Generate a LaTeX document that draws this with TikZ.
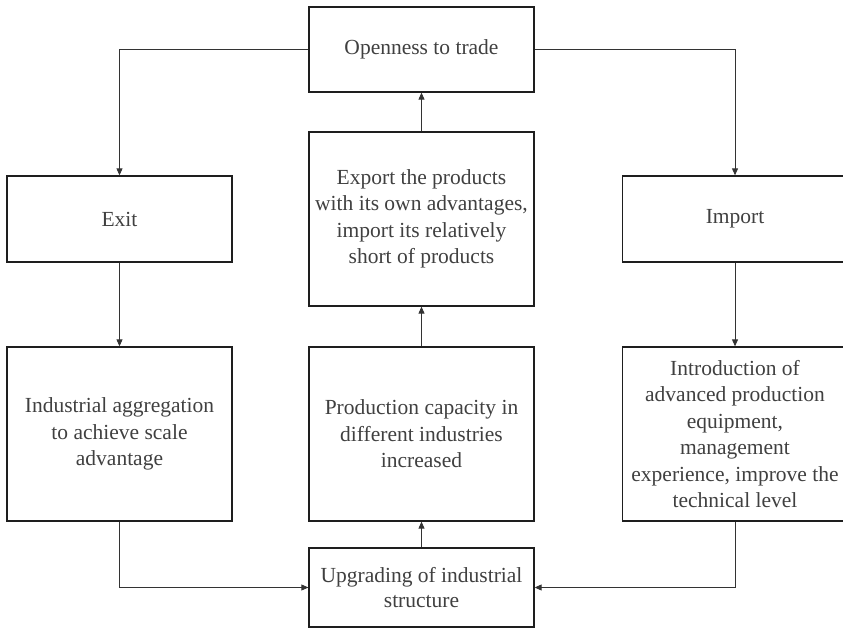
\documentclass[tikz,border=0pt]{standalone}
\usepackage{fontspec}
\setmainfont{Liberation Serif}
\usetikzlibrary{arrows.meta}
\definecolor{txt}{HTML}{404040}
\definecolor{edge}{HTML}{1E1E1E}
\definecolor{conn}{HTML}{333333}
\begin{document}
\begin{tikzpicture}[x=1pt,y=1pt,
  box/.style={draw=edge, line width=1.3pt, fill=white, minimum width=225pt, inner sep=0pt,
    align=center, text=txt, font=\fontsize{21.5}{26.5}\selectfont},
  conn/.style={draw=conn, line width=0.9pt, -{Triangle[length=7pt,width=6pt]}}]
\useasboundingbox (0,0) rectangle (843,629);
\clip (0,0) rectangle (843,629);
\fill[white] (0,0) rectangle (843,629);
\node[box, minimum height=85pt] (open) at (421.5,579.5) {Openness to trade};
\node[box, minimum height=86pt] (exit) at (119.5,410) {Exit};
\node[box, minimum height=174pt] (export) at (421.5,410) {Export the products\\with its own advantages,\\import its relatively\\short of products};
\node[box, minimum height=86pt] (import) at (735,410) {Import};
\node[box, minimum height=174pt] (indus) at (119.5,195) {Industrial aggregation\\to achieve scale\\advantage};
\node[box, minimum height=174pt] (prod) at (421.5,195) {Production capacity in\\different industries\\increased};
\node[box, minimum height=174pt] (intro) at (735,195) {Introduction of\\advanced production\\equipment,\\management\\experience, improve the\\technical level};
\node[box, minimum height=79pt, font=\fontsize{21.5}{25}\selectfont] (up) at (421.5,41.5) {Upgrading of industrial\\structure};
\draw[conn] (open.west) -| (exit.north);
\draw[conn] (open.east) -| (import.north);
\draw[conn] (exit.south) -- (indus.north);
\draw[conn] (import.south) -- (intro.north);
\draw[conn] (indus.south) |- (up.west);
\draw[conn] (intro.south) |- (up.east);
\draw[conn] (up.north) -- (prod.south);
\draw[conn] (prod.north) -- (export.south);
\draw[conn] (export.north) -- (open.south);
\end{tikzpicture}
\end{document}
